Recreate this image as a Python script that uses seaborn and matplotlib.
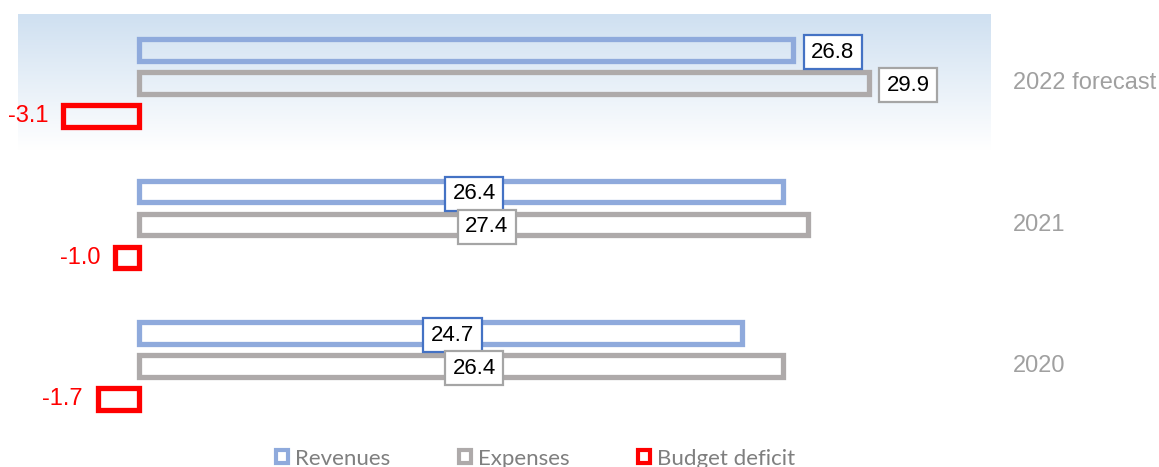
import numpy as np
import pandas as pd
import matplotlib
matplotlib.use("Agg")
import matplotlib.pyplot as plt
from matplotlib.colors import LinearSegmentedColormap
from matplotlib.patches import Patch
import seaborn as sns

# data (bn)
years = ["2022 forecast", "2021", "2020"]
revenues = [26.8, 26.4, 24.7]
expenses = [29.9, 27.4, 26.4]
deficit = [-3.1, -1.0, -1.7]
series = ["Revenues", "Expenses", "Budget deficit"]

colors = ["#8FAADC", "#AEAAAA", "#FF0000"]
label_edges = ["#4472C4", "#A5A5A5"]

df = pd.DataFrame({
    "year": years * 3,
    "series": np.repeat(series, 3),
    "value": revenues + expenses + deficit,
})

sns.set_theme(style="white")
plt.rcParams["font.family"] = ["Liberation Sans", "DejaVu Sans"]

fig = plt.figure(figsize=(11.59, 4.67), dpi=100)
ax = fig.add_axes([0, 0, 1, 1])

# light blue shading behind the forecast group
grad = np.linspace(0, 1, 256).reshape(-1, 1)
cmap = LinearSegmentedColormap.from_list("bg", ["#CFE0F1", "#FFFFFF"])
ax.imshow(grad, cmap=cmap, aspect="auto", extent=(-4.96, 34.9, 0.47, -0.49),
          origin="upper", zorder=0)

width, gap = 0.70, 0.35
sns.barplot(data=df, x="value", y="year", hue="series", hue_order=series,
            order=years, palette=colors, saturation=1, orient="h", fill=False,
            linewidth=3.8, width=width, gap=gap, errorbar=None, legend=False,
            ax=ax, zorder=2)
for p in ax.patches:
    p.set_joinstyle("miter")

step = width / 3
for i, yr in enumerate(years):
    for j, vals in enumerate([revenues, expenses]):
        v = vals[i]
        y = i + (j - 1) * step + 0.015
        if i == 0:
            x, ha = v + 0.75, "left"
        else:
            x, ha = v * 0.52, "center"
        ax.text(x, y, f"{v:.1f}", ha=ha, va="center", fontsize=16, color="black",
                zorder=5,
                bbox=dict(boxstyle="square,pad=0.34", facecolor="white",
                          edgecolor=label_edges[j], linewidth=1.6,
                          mutation_aspect=0.85))
    ax.text(deficit[i] - 0.6, i + step, f"{deficit[i]:.1f}", ha="right",
            va="center", fontsize=17, color="#FF0000")
    ax.text(35.8, i, yr, ha="left", va="center", fontsize=17, color="#A0A0A0")

handles = [Patch(facecolor="white", edgecolor=c, linewidth=3) for c in colors]
fig.legend(handles, series, loc="center", bbox_to_anchor=(0.462, 0.018), ncol=3,
           frameon=False, handlelength=0.55, handleheight=0.55, handletextpad=0.3,
           columnspacing=3.1, labelcolor="#7F7F7F",
           prop={"family": "Lato", "size": 16})

ax.set_xlim(-5.70, 41.8)
ax.set_ylim(2.714, -0.587)
ax.axis("off")

fig.savefig("out.png", dpi=100)
